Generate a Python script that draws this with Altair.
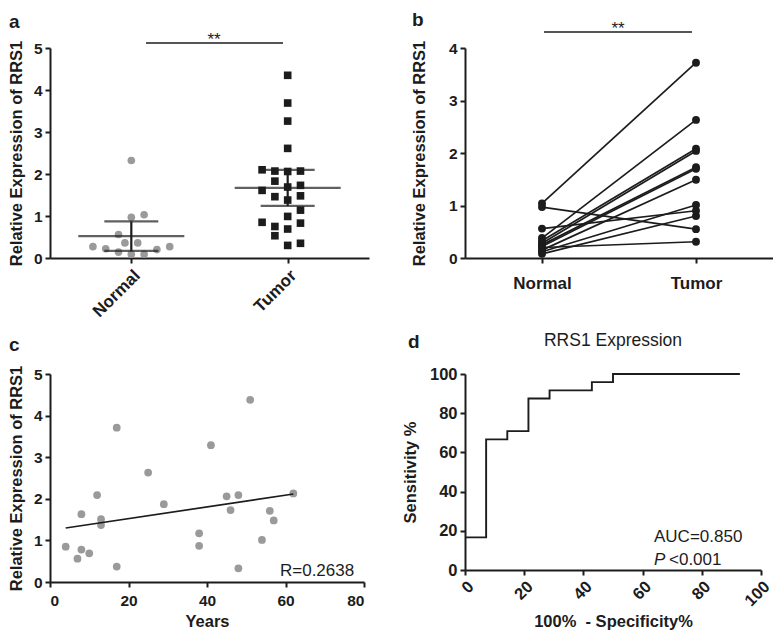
import altair as alt
import pandas as pd

FONT = "Liberation Sans"
INK = "#1c1c1c"
GREY = "#9a9a9a"

# ---------------- data ----------------
# panel a
groups = ["Normal", "Tumor"]
normal_a = [2.32, 1.03, 0.97, 0.56, 0.36, 0.36, 0.27, 0.22, 0.14, 0.09, 0.09, 0.20, 0.27]
normal_slot = [0, 1, 0, -1, -0.5, 0.5, -3, -2, -1, 0, 1, 2, 3]
tumor_a = [4.35, 3.69, 3.26, 2.61, 2.10, 2.07, 2.06, 2.07, 1.83, 1.61, 1.69, 1.73,
           1.46, 1.48, 1.38, 1.14, 0.99, 0.85, 0.83, 0.75, 0.69, 0.53, 0.30, 0.35]
tumor_slot = [0, 0, 0, 0, -2, -1, 0, 1, -1, -2, 0, 1, -1, 1, 0, 1, 0, -2, 1, -1, 0, -1, 0, 1]
group_mean = [0.52, 1.67]
group_low = [0.17, 1.24]
group_high = [0.87, 2.10]

# panel b (paired samples)
pair_normal = [1.04, 0.97, 0.56, 0.38, 0.33, 0.28, 0.25, 0.22, 0.15, 0.12, 0.08, 0.20]
pair_tumor = [3.72, 0.55, 0.90, 2.63, 2.08, 2.04, 1.73, 1.70, 1.49, 1.01, 0.80, 0.31]

# panel c
years = [4, 7, 8, 8, 10, 12, 13, 13, 17, 17, 25, 29, 38, 38, 41, 45, 46, 48, 48, 51, 54, 56, 57, 62]
expr_c = [0.85, 0.56, 1.63, 0.78, 0.69, 2.09, 1.51, 1.37, 3.71, 0.37, 2.63, 1.87,
          1.17, 0.87, 3.29, 2.06, 1.73, 2.09, 0.33, 4.38, 1.01, 1.71, 1.48, 2.13]

# panel d (ROC)
roc_fpr = [0, 7.14, 14.29, 21.43, 28.57, 42.86, 50.0, 92.86]
roc_tpr = [16.67, 66.67, 70.83, 87.5, 91.67, 95.83, 100, 100]

dummy = pd.DataFrame({"k": [0]})


def label(txt, x, y, size=19, weight="bold", align="left", style="normal", dx=0):
    return alt.Chart(dummy).mark_text(
        text=txt, font=FONT, fontSize=size, fontWeight=weight, fontStyle=style,
        align=align, baseline="alphabetic", color=INK, dx=dx
    ).encode(x=alt.value(x), y=alt.value(y))


# ---------------- panel a ----------------
W_A, H_A = 319, 210
df_norm = pd.DataFrame({"group": "Normal", "value": normal_a, "slot": normal_slot})
df_tum = pd.DataFrame({"group": "Tumor", "value": tumor_a, "slot": tumor_slot})
df_stats = pd.DataFrame({"group": groups, "mean": group_mean, "low": group_low, "high": group_high})

x_a = alt.X("group:N", scale=alt.Scale(type="point", domain=groups, padding=0.52),
            axis=alt.Axis(title=None, labelAngle=-45, labelFontSize=17, labelPadding=4))
y_a = alt.Y("value:Q", scale=alt.Scale(domain=[0, 5], nice=False),
            axis=alt.Axis(values=[0, 1, 2, 3, 4, 5], format="d", title="Relative Expression of RRS1",
                          titlePadding=9))
off = alt.XOffset("slot:Q", scale=alt.Scale(domain=[-3, 3], range=[-38.4, 38.4]))

a_norm = alt.Chart(df_norm).mark_point(shape="circle", filled=True, size=58, color=GREY, opacity=1).encode(
    x=x_a, y=y_a, xOffset=off)
a_tum = alt.Chart(df_tum).mark_point(shape="square", filled=True, size=58, color=INK, opacity=1).encode(
    x="group:N", y="value:Q", xOffset=off)
a_mean = alt.Chart(df_stats).mark_tick(orient="horizontal", size=106, thickness=2.2, color=INK).encode(
    x="group:N", y="mean:Q")
a_err = alt.Chart(df_stats).mark_rule(strokeWidth=2.2, color=INK).encode(x="group:N", y="low:Q", y2="high:Q")
a_cap_lo = alt.Chart(df_stats).mark_tick(orient="horizontal", size=54, thickness=2.2, color=INK).encode(
    x="group:N", y="low:Q")
a_cap_hi = alt.Chart(df_stats).mark_tick(orient="horizontal", size=54, thickness=2.2, color=INK).encode(
    x="group:N", y="high:Q")
a_sig = alt.Chart(dummy).mark_rule(strokeWidth=1.5, color=INK).encode(
    x=alt.value(96), x2=alt.value(233), y=alt.value(-5))
a_star = label("**", 164, -3, size=17, weight="normal", align="center")
a_lab = label("a", -41, -20)

panel_a = alt.layer(a_norm, a_tum, a_mean, a_err, a_cap_lo, a_cap_hi, a_sig, a_star, a_lab).properties(
    width=W_A, height=H_A)

# ---------------- panel b ----------------
W_B, H_B = 308, 210
rows = []
for i, (n, t) in enumerate(zip(pair_normal, pair_tumor)):
    rows.append({"pair": i, "group": "Normal", "value": n})
    rows.append({"pair": i, "group": "Tumor", "value": t})
df_pairs = pd.DataFrame(rows)

x_b = alt.X("group:N", scale=alt.Scale(type="point", domain=groups, padding=0.5),
            axis=alt.Axis(title=None, labelAngle=0, labelFontSize=17, labelPadding=12))
y_b = alt.Y("value:Q", scale=alt.Scale(domain=[0, 4], nice=False),
            axis=alt.Axis(values=[0, 1, 2, 3, 4], format="d", title="Relative Expression of RRS1",
                          titlePadding=21))
b_lines = alt.Chart(df_pairs).mark_line(color=INK, strokeWidth=1.7).encode(x=x_b, y=y_b, detail="pair:N")
b_dots = alt.Chart(df_pairs).mark_circle(size=62, color=INK, opacity=1).encode(x="group:N", y="value:Q")
b_sig = alt.Chart(dummy).mark_rule(strokeWidth=1.5, color=INK).encode(
    x=alt.value(79), x2=alt.value(227), y=alt.value(-16))
b_star = label("**", 153, -14.5, size=17, weight="normal", align="center")
b_lab = label("b", -53, -22)
panel_b = alt.layer(b_lines, b_dots, b_sig, b_star, b_lab).properties(width=W_B, height=H_B)

# ---------------- panel c ----------------
W_C, H_C = 314, 208
df_c = pd.DataFrame({"years": years, "expr": expr_c})
x_c = alt.X("years:Q", scale=alt.Scale(domain=[0, 80], nice=False),
            axis=alt.Axis(values=[0, 20, 40, 60, 80], title="Years", labelPadding=6, titlePadding=5))
y_c = alt.Y("expr:Q", scale=alt.Scale(domain=[0, 5], nice=False),
            axis=alt.Axis(values=[0, 1, 2, 3, 4, 5], format="d", title="Relative Expression of RRS1",
                          titlePadding=9))
c_pts = alt.Chart(df_c).mark_circle(size=60, color=GREY, opacity=1).encode(x=x_c, y=y_c)
c_fit = alt.Chart(df_c).transform_regression("years", "expr").mark_line(color=INK, strokeWidth=1.7).encode(
    x="years:Q", y="expr:Q")
c_r = alt.Chart(dummy).mark_text(text="R=0.2638", font=FONT, fontSize=17, align="right",
                                 baseline="alphabetic", color=INK).encode(
    x=alt.datum(77.5), y=alt.datum(0.15))
c_lab = label("c", -41, -23)
panel_c = alt.layer(c_pts, c_fit, c_r, c_lab).properties(width=W_C, height=H_C)

# ---------------- panel d ----------------
W_D, H_D = 296, 196
df_d = pd.DataFrame({"fpr": roc_fpr, "tpr": roc_tpr})
x_d = alt.X("fpr:Q", scale=alt.Scale(domain=[0, 100], nice=False),
            axis=alt.Axis(values=[0, 20, 40, 60, 80, 100], labelAngle=-45, title="100%\u00a0 - Specificity%",
                          labelPadding=3, titlePadding=4, labelFontSize=16.5))
y_d = alt.Y("tpr:Q", scale=alt.Scale(domain=[0, 100], nice=False),
            axis=alt.Axis(values=[0, 20, 40, 60, 80, 100], format="d", title="Sensitivity %",
                          titlePadding=11, labelFontSize=16.5))
d_line = alt.Chart(df_d).mark_line(interpolate="step-after", color=INK, strokeWidth=1.9).encode(x=x_d, y=y_d)
d_auc = label("AUC=0.850", 189, 168, size=17, weight="normal")
d_p = label("P", 189, 191, size=17, weight="normal", style="italic")
d_pv = label("<0.001", 189, 191, size=17, weight="normal", dx=15)
d_title = label("RRS1 Expression", W_D / 2, -28, size=17.5, weight="normal", align="center")
d_lab = label("d", -57, -26)
panel_d = alt.layer(d_line, d_auc, d_p, d_pv, d_title, d_lab).properties(width=W_D, height=H_D)

chart = alt.concat(
    panel_a, panel_b, panel_c, panel_d,
    columns=2, spacing={"row": 116, "column": 96}, bounds="flush"
).properties(padding={"top": 3, "left": 0, "right": 0, "bottom": 0}).configure_axis(
    domainColor=INK, domainWidth=2, tickColor=INK, tickWidth=2, tickSize=5,
    labelColor=INK, titleColor=INK, labelFont=FONT, titleFont=FONT,
    labelFontWeight="bold", titleFontWeight="bold", labelFontSize=15.5, titleFontSize=16.5,
    grid=False, labelPadding=3, labelOverlap=False
).configure_view(stroke=None)

chart.save("out.html", embed_options={"renderer": "svg", "actions": False})
